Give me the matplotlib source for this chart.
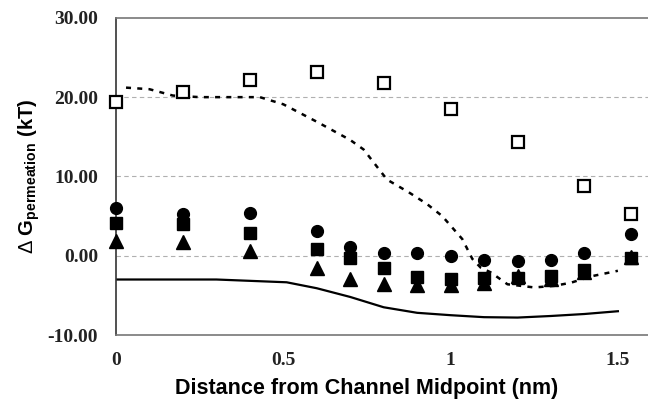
"""
Permeation free-energy profile along the channel axis.
"""

import matplotlib.pyplot as plt

plt.rcParams["mathtext.fontset"] = "custom"
plt.rcParams["mathtext.rm"] = "Liberation Sans"
plt.rcParams["mathtext.bf"] = "Liberation Sans:bold"

# Sampled positions (nm from channel midpoint)
x_open = [0.0, 0.2, 0.4, 0.6, 0.8, 1.0, 1.2, 1.4, 1.54]
y_open_sq = [19.4, 20.7, 22.2, 23.2, 21.8, 18.5, 14.3, 8.8, 5.2]

x_filled = [0.0, 0.2, 0.4, 0.6, 0.7, 0.8, 0.9, 1.0, 1.1, 1.2, 1.3, 1.4, 1.54]
y_circle = [6.0, 5.2, 5.4, 3.1, 1.1, 0.4, 0.3, 0.0, -0.5, -0.7, -0.6, 0.3, 2.7]
y_square = [4.1, 4.0, 2.9, 0.8, -0.3, -1.5, -2.7, -2.9, -2.8, -2.8, -2.6, -1.8, -0.3]
y_triangle = [1.8, 1.7, 0.6, -1.5, -2.9, -3.6, -3.7, -3.7, -3.4, -2.5, -2.9, -2.1, -0.1]

# Continuous profiles
x_dotted = [0.03, 0.1, 0.17, 0.25, 0.35, 0.43, 0.5, 0.6, 0.7, 0.74, 0.81,
            0.875, 0.93, 0.975, 1.035, 1.065, 1.09, 1.12, 1.17, 1.25, 1.31,
            1.36, 1.42, 1.5]
y_dotted = [21.2, 21.0, 20.2, 20.0, 20.0, 20.0, 19.1, 16.9, 14.6, 13.4, 9.6,
            8.0, 6.5, 5.0, 2.1, -0.4, -1.5, -2.1, -3.6, -4.0, -3.8,
            -3.4, -2.6, -1.9]

x_solid = [0.0, 0.3, 0.51, 0.6, 0.7, 0.8, 0.9, 1.0, 1.1, 1.2, 1.3, 1.4, 1.5]
y_solid = [-3.0, -3.0, -3.35, -4.1, -5.2, -6.5, -7.2, -7.5, -7.75, -7.8,
           -7.6, -7.35, -7.0]

y_ticks = [-10, 0, 10, 20, 30]
x_ticks = [0, 0.5, 1, 1.5]
x_tick_labels = ["0", "0.5", "1", "1.5"]

fig = plt.figure(figsize=(6.48, 4.03), dpi=100)
ax = fig.add_axes([0.179, 0.1687, 0.821, 0.787])

# light dashed gridlines
for yv in [0, 10, 20]:
    ax.axhline(yv, color="#b0b0b0", linestyle=(0, (4, 3)), linewidth=0.8, zorder=0)

ax.plot(x_solid, y_solid, color="black", linewidth=1.6, zorder=2)
ax.plot(x_dotted, y_dotted, color="black", linewidth=1.8,
        linestyle=(0, (2, 2.5)), zorder=2)

marker_kw = dict(linestyle="none", clip_on=False)
ax.plot(x_open, y_open_sq, marker="s", markersize=8, markerfacecolor="white",
        markeredgecolor="black", markeredgewidth=1.6, zorder=3, **marker_kw)
ax.plot(x_filled, y_circle, marker="o", markersize=8.5, color="black",
        zorder=3, **marker_kw)
ax.plot(x_filled, y_triangle, marker="^", markersize=9.5, color="black",
        zorder=4, **marker_kw)
ax.plot(x_filled, y_square, marker="s", markersize=8.5, color="black",
        zorder=5, **marker_kw)

ax.set_xlim(0, 1.59)
ax.set_ylim(-10, 30)
ax.set_yticks(y_ticks)
ax.set_yticklabels([f"{v:.2f}" for v in y_ticks])
ax.set_xticks(x_ticks)
ax.set_xticklabels(x_tick_labels)

for lbl in ax.get_xticklabels() + ax.get_yticklabels():
    lbl.set_fontfamily("Liberation Serif")
    lbl.set_fontweight("bold")
    lbl.set_fontsize(14)
    lbl.set_color("#222222")

ax.tick_params(axis="both", length=0)
ax.tick_params(axis="y", pad=13)
ax.tick_params(axis="x", pad=12)

ax.spines["right"].set_visible(False)
ax.spines["top"].set_color("#777777")
ax.spines["bottom"].set_color("#777777")
ax.spines["top"].set_linewidth(1.2)
ax.spines["bottom"].set_linewidth(1.2)
ax.spines["left"].set_color("#333333")
ax.spines["left"].set_linewidth(1.2)

ax.set_xlabel("Distance from Channel Midpoint (nm)", fontfamily="Liberation Sans",
              fontweight="bold", fontsize=15.5)
ax.xaxis.set_label_coords(0.472, -0.137)
ax.set_ylabel(r"$\Delta\;\mathbf{G}_{\mathbf{permeation}}\ \mathbf{(kT)}$",
              fontsize=14.5)
ax.yaxis.set_label_coords(-0.14, 0.5)

fig.savefig("out.png", dpi=100)
